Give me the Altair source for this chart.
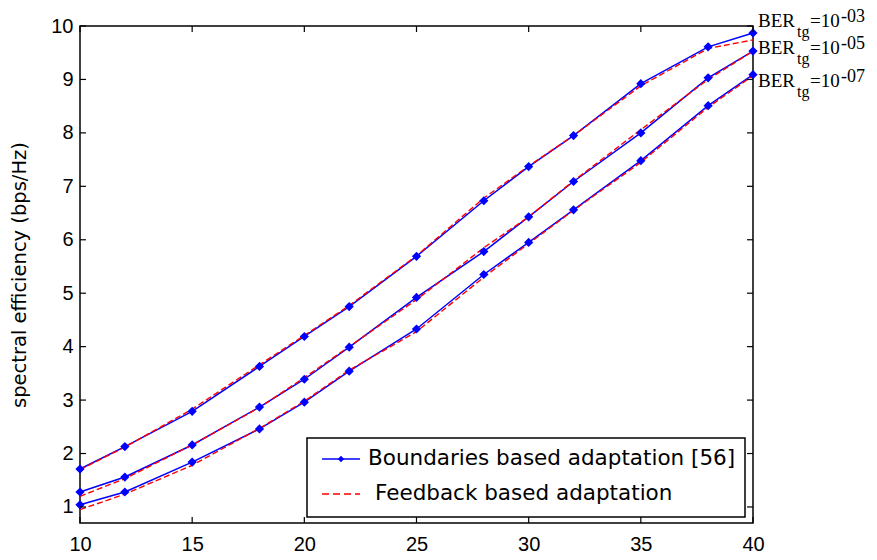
import altair as alt
import pandas as pd

# ---------------- data ----------------
snr = [10, 12, 15, 18, 20, 22, 25, 28, 30, 32, 35, 38, 40]

blue_1e3 = [1.71, 2.13, 2.79, 3.63, 4.19, 4.75, 5.69, 6.73, 7.37, 7.95, 8.92, 9.61, 9.87]
blue_1e5 = [1.28, 1.56, 2.16, 2.87, 3.39, 3.99, 4.92, 5.78, 6.43, 7.09, 8.00, 9.03, 9.53]
blue_1e7 = [1.04, 1.28, 1.84, 2.46, 2.96, 3.54, 4.33, 5.35, 5.95, 6.56, 7.48, 8.51, 9.09]

red_1e3 = [1.70, 2.12, 2.83, 3.66, 4.21, 4.77, 5.70, 6.78, 7.38, 7.95, 8.88, 9.58, 9.74]
red_1e5 = [1.20, 1.53, 2.16, 2.86, 3.42, 4.00, 4.88, 5.85, 6.43, 7.10, 8.06, 9.00, 9.53]
red_1e7 = [0.95, 1.24, 1.78, 2.47, 2.98, 3.56, 4.28, 5.30, 5.93, 6.55, 7.45, 8.48, 9.07]

ber_exponents = ["-03", "-05", "-07"]
ber_label_y = [9.98, 9.48, 8.86]

methods = ["Boundaries based adaptation [56]", "Feedback based adaptation"]

x_ticks = [10, 15, 20, 25, 30, 35, 40]
y_ticks = [1, 2, 3, 4, 5, 6, 7, 8, 9, 10]

# ---------------- tables ----------------
rows = []
for ber, b, r in zip(ber_exponents, [blue_1e3, blue_1e5, blue_1e7], [red_1e3, red_1e5, red_1e7]):
    for x, v in zip(snr, b):
        rows.append({"snr": x, "se": v, "ber": ber, "method": methods[0]})
    for x, v in zip(snr, r):
        rows.append({"snr": x, "se": v, "ber": ber, "method": methods[1]})
df = pd.DataFrame(rows)
df_blue = df[df.method == methods[0]]
df_red = df[df.method == methods[1]]

lab = pd.DataFrame({"snr": [40] * 3, "y": ber_label_y, "exp": ber_exponents})
xt = pd.DataFrame({"v": x_ticks})
yt = pd.DataFrame({"v": y_ticks})
leg = pd.DataFrame({"label": methods, "row": [0, 1]})

W, H = 673, 497
XMIN, XMAX, YMIN, YMAX = 10, 40, 0.7, 10

xs = alt.Scale(domain=[XMIN, XMAX], nice=False, zero=False)
ys = alt.Scale(domain=[YMIN, YMAX], nice=False, zero=False)

xenc = alt.X("snr:Q", scale=xs, axis=alt.Axis(values=x_ticks, title=None, ticks=False, domain=False,
                                                 grid=False, labelFont="Liberation Sans", labelFontSize=20,
                                                 labelColor="black", labelPadding=11, format="d",
                                                 labelFlush=False, labelOverlap=False))
yenc = alt.Y("se:Q", scale=ys, axis=alt.Axis(values=y_ticks, title="spectral efficiency (bps/Hz)",
                                                ticks=False, domain=False, grid=False,
                                                labelFont="Liberation Sans", labelFontSize=20,
                                                labelColor="black", labelPadding=7, format="d",
                                                labelFlush=False, labelOverlap=False,
                                                titleFont="DejaVu Sans", titleFontSize=19.5,
                                                titleFontWeight="normal", titleColor="black",
                                                titlePadding=21))

blue_lines = alt.Chart(df_blue).mark_line(color="#0000FF", strokeWidth=1.5).encode(
    x=xenc, y=yenc, detail="ber:N")
red_lines = alt.Chart(df_red).mark_line(color="#FF0000", strokeWidth=1.4, strokeDash=[6, 3]).encode(
    x="snr:Q", y="se:Q", detail="ber:N")
blue_pts = alt.Chart(df_blue).mark_point(shape="diamond", filled=True, color="#0000FF", size=85,
                                          opacity=1).encode(x="snr:Q", y="se:Q")

# inward ticks on all four sides
tick_len = 6
yl = alt.Chart(yt).mark_rule(color="black", strokeWidth=1.2).encode(
    y=alt.Y("v:Q", scale=ys), x=alt.value(0), x2=alt.value(tick_len))
yr = alt.Chart(yt).mark_rule(color="black", strokeWidth=1.2).encode(
    y=alt.Y("v:Q", scale=ys), x=alt.value(W - tick_len), x2=alt.value(W))
xb = alt.Chart(xt).mark_rule(color="black", strokeWidth=1.2).encode(
    x=alt.X("v:Q", scale=xs), y=alt.value(H - tick_len), y2=alt.value(H))
xtp = alt.Chart(xt).mark_rule(color="black", strokeWidth=1.2).encode(
    x=alt.X("v:Q", scale=xs), y=alt.value(0), y2=alt.value(tick_len))

# BER labels at right
serif = "Liberation Serif"
t_ber = alt.Chart(lab).mark_text(text="BER", font=serif, fontSize=19, align="left", baseline="alphabetic",
                                 dx=5, color="black").encode(x=alt.X("snr:Q", scale=xs), y=alt.Y("y:Q", scale=ys))
t_tg = alt.Chart(lab).mark_text(text="tg", font=serif, fontSize=16, align="left", baseline="alphabetic",
                                dx=44, dy=10, color="black").encode(x=alt.X("snr:Q", scale=xs), y=alt.Y("y:Q", scale=ys))
t_eq = alt.Chart(lab).mark_text(text="=10", font=serif, fontSize=19, align="left", baseline="alphabetic",
                                dx=57, color="black").encode(x=alt.X("snr:Q", scale=xs), y=alt.Y("y:Q", scale=ys))
t_exp = alt.Chart(lab).mark_text(font=serif, fontSize=18, align="left", baseline="alphabetic",
                                 dx=88, dy=-5, color="black").encode(x=alt.X("snr:Q", scale=xs),
                                                                     y=alt.Y("y:Q", scale=ys), text="exp:N")

# legend box (drawn in the plot's pixel space)
LX0, LX1, LY0, LY1 = 227, 665, 412, 491
leg_box = alt.Chart(leg.head(1)).mark_rect(fill="white", stroke="black", strokeWidth=1.5).encode(
    x=alt.value(LX0), x2=alt.value(LX1), y=alt.value(LY0), y2=alt.value(LY1))
leg_blue = alt.Chart(leg.head(1)).mark_rule(color="#0000FF", strokeWidth=1.5).encode(
    x=alt.value(242), x2=alt.value(280), y=alt.value(433))
leg_blue_pt = alt.Chart(leg.head(1)).mark_point(shape="diamond", filled=True, color="#0000FF", size=40,
                                                opacity=1).encode(x=alt.value(261), y=alt.value(433))
leg_red = alt.Chart(leg.head(1)).mark_rule(color="#FF0000", strokeWidth=1.4, strokeDash=[7, 4]).encode(
    x=alt.value(242), x2=alt.value(280), y=alt.value(468))
leg_t1 = alt.Chart(leg.head(1)).mark_text(font="DejaVu Sans", fontSize=21.5, align="left", baseline="middle",
                                          color="black").encode(x=alt.value(288), y=alt.value(433), text="label:N")
leg_t2 = alt.Chart(leg.tail(1)).mark_text(font="DejaVu Sans", fontSize=21.5, align="left", baseline="middle",
                                          color="black").encode(x=alt.value(295), y=alt.value(468), text="label:N")

chart = alt.layer(
    blue_lines, red_lines, blue_pts, yl, yr, xb, xtp,
    t_ber, t_tg, t_eq, t_exp,
    leg_box, leg_blue, leg_red, leg_blue_pt, leg_t1, leg_t2,
).properties(
    width=W, height=H,
    autosize=alt.AutoSizeParams(type="none"),
    padding={"left": 80, "top": 26, "right": 124, "bottom": 37},
    background="white",
).configure_view(stroke="black", strokeWidth=1.5)

chart.save("out.html", embed_options={"renderer": "svg", "actions": False})
